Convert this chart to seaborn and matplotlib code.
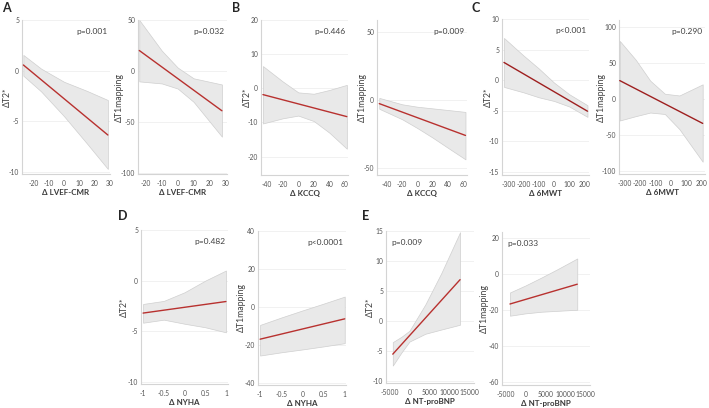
import numpy as np
import pandas as pd
import seaborn as sns
import matplotlib.pyplot as plt

# ---- panel A: delta LVEF-CMR
a1_x = [-26.6, -15, 0, 15, 28.6]
a1_hi = [1.55, 0.2, -1.1, -2.0, -2.9]
a1_lo = [-0.5, -2.05, -4.5, -7.2, -9.7]
a1_fit = [0.56, -6.35]

a2_x = [-24.2, -10, 0, 10, 27.8]
a2_hi = [50, 20, 3.5, -7, -13]
a2_lo = [-10, -12, -17, -30, -64]
a2_fit = [20.2, -38.7]

# ---- panel B: delta KCCQ
b1_x = [-45.5, -20, 0, 20, 40, 62.5]
b1_hi = [6.5, 2.0, -1.2, -1.6, -0.5, 1.0]
b1_lo = [-10.3, -8.8, -8.0, -9.6, -13.0, -17.7]
b1_fit = [-1.85, -8.3]

b2_x = [-50, -20, 0, 20, 40, 63]
b2_hi = [1.7, -3.0, -4.8, -6.0, -7.2, -8.6]
b2_lo = [-6.3, -14.0, -20.5, -27.5, -35, -43.5]
b2_fit = [-2.5, -25.9]

# ---- panel C: delta 6MWT
c1_x = [-330, -200, -100, 0, 100, 220]
c1_hi = [6.9, 4.0, 1.9, -0.4, -2.3, -4.1]
c1_lo = [-1.1, -2.0, -2.8, -3.4, -4.3, -6.0]
c1_fit = [2.9, -5.07]

c2_x = [-330, -227, -133, -39, 55, 205]
c2_hi = [80, 54, 25, 7, 4.6, 20]
c2_lo = [-30, -24, -19, -21, -42, -87]
c2_fit = [25.2, -34.0]

# ---- panel D: delta NYHA
d1_x = [-1, -0.5, 0, 0.5, 1]
d1_hi = [-2.3, -2.0, -1.15, 0.0, 1.0]
d1_lo = [-4.15, -3.85, -4.25, -4.6, -5.1]
d1_fit = [-3.2, -2.06]

d2_x = [-1, -0.5, 0, 0.5, 1]
d2_hi = [-9.4, -5.5, -1.8, 1.8, 5.5]
d2_lo = [-25.5, -23.8, -22.3, -20.7, -19.0]
d2_fit = [-16.9, -6.2]

# ---- panel E: delta NT-proBNP
e1_x = [-4200, -2000, 0, 4000, 8000, 12700]
e1_hi = [-3.5, -2.6, -1.6, 2.8, 8.0, 14.8]
e1_lo = [-7.4, -5.2, -3.4, -2.1, -1.4, -0.6]
e1_fit = [-5.5, 6.9]

e2_x = [-3900, 0, 4000, 8000, 13000]
e2_hi = [-10.1, -6.2, -1.8, 2.8, 8.8]
e2_lo = [-23, -21.7, -20.8, -20.3, -19.7]
e2_fit = [-16.5, -5.5]

p_values = ['p=0.001', 'p=0.032', 'p=0.446', 'p=0.009', 'p<0.001', 'p=0.290',
            'p=0.482', 'p<0.0001', 'p=0.009', 'p=0.033']

sns.set_theme(style='white')
plt.rcParams['font.family'] = ['Lato', 'DejaVu Sans']
plt.rcParams['axes.unicode_minus'] = False

W, H = 709, 408
fig = plt.figure(figsize=(W / 100, H / 100), dpi=100)
narrow = ['Liberation Sans Narrow', 'Lato', 'DejaVu Sans']


def draw(rect, x, hi, lo, fit, xlim, ylim, xticks, yticks, xlabel, ylabel, ptext,
         ylab_off=15, pleft=False, lcolor='#b8312f'):
    l, t, r, b = rect
    ax = fig.add_axes([l / W, 1 - b / H, (r - l) / W, (b - t) / H])
    ax.fill_between(x, lo, hi, facecolor='#e9e9e9', edgecolor='#cfcfcf', lw=0.5, zorder=1)
    sns.lineplot(x=[x[0], x[-1]], y=fit, color=lcolor, lw=1.0, ax=ax, zorder=3)
    ax.set_xlim(*xlim)
    ax.set_ylim(*ylim)
    ax.set_xticks(xticks)
    ax.set_xticklabels([f'{v:g}' for v in xticks], family=narrow)
    ax.set_yticks(yticks)
    ax.set_yticklabels([f'{v:g}' for v in yticks], family=narrow)
    ax.yaxis.grid(True, color='#efefef', lw=0.6, zorder=0)
    ax.set_axisbelow(True)
    for s in ['top', 'right']:
        ax.spines[s].set_visible(False)
    for s in ['left', 'bottom']:
        ax.spines[s].set_color('#d4d4d4')
        ax.spines[s].set_linewidth(0.8)
    ax.tick_params(axis='both', labelsize=4.9, colors='#d4d4d4', labelcolor='#555555',
                   length=2, width=0.5, pad=2)
    ax.tick_params(axis='y', length=0)
    ax.set_xlabel(xlabel, fontsize=5.8, fontweight='bold', color='#3a3a3a', labelpad=2,
                  family=narrow)
    ax.set_ylabel(ylabel, fontsize=6.3, color='#404040', va='center')
    ax.yaxis.set_label_coords(-ylab_off / (r - l), 0.5)
    if pleft:
        ax.text(0.06, 0.95, ptext, transform=ax.transAxes, ha='left', va='top',
                fontsize=6, color='#404040')
    else:
        ax.text(0.97, 0.95, ptext, transform=ax.transAxes, ha='right', va='top',
                fontsize=6, color='#404040')
    return ax


lv = 'Δ LVEF-CMR'
draw((22, 20, 110, 174), a1_x, a1_hi, a1_lo, a1_fit, (-27.5, 30), (-10.2, 5),
     [-20, -10, 0, 10, 20, 30], [-10, -5, 0, 5], lv, 'ΔT2*', p_values[0], ylab_off=15)
draw((138, 20, 227, 174), a2_x, a2_hi, a2_lo, a2_fit, (-25, 31), (-100.5, 50),
     [-20, -10, 0, 10, 20, 30], [-100, -50, 0, 50], lv, 'ΔT1mapping', p_values[1], ylab_off=19)

kc = 'Δ KCCQ'
draw((261, 20, 348, 175), b1_x, b1_hi, b1_lo, b1_fit, (-48, 64), (-25.4, 20),
     [-40, -20, 0, 20, 40, 60], [-20, -10, 0, 10, 20], kc, 'ΔT2*', p_values[2], ylab_off=14)
draw((377, 20, 467, 175), b2_x, b2_hi, b2_lo, b2_fit, (-53, 65), (-55, 59),
     [-40, -20, 0, 20, 40, 60], [-50, 0, 50], kc, 'ΔT1mapping', p_values[3], ylab_off=15)

mw = 'Δ 6MWT'
draw((502, 19, 589, 175), c1_x, c1_hi, c1_lo, c1_fit, (-343, 230), (-15.5, 10),
     [-300, -200, -100, 0, 100, 200], [-15, -10, -5, 0, 5, 10], mw, 'ΔT2*', p_values[4],
     ylab_off=14, lcolor='#9e1f1f')
draw((619, 20, 705, 174), c2_x, c2_hi, c2_lo, c2_fit, (-335, 220), (-104, 109),
     [-300, -200, -100, 0, 100, 200], [-100, -50, 0, 50, 100], mw, 'ΔT1mapping', p_values[5],
     ylab_off=18, lcolor='#9e1f1f')

ny = 'Δ NYHA'
draw((141, 230, 228, 384), d1_x, d1_hi, d1_lo, d1_fit, (-1.05, 1.05), (-10.2, 5),
     [-1, -0.5, 0, 0.5, 1], [-10, -5, 0, 5], ny, 'ΔT2*', p_values[6], ylab_off=17)
draw((258, 231, 346, 385), d2_x, d2_hi, d2_lo, d2_fit, (-1.05, 1.03), (-41, 40),
     [-1, -0.5, 0, 0.5, 1], [-40, -20, 0, 20, 40], ny, 'ΔT1mapping', p_values[7], ylab_off=17)

nt = 'Δ NT-proBNP'
draw((386, 231, 474, 383), e1_x, e1_hi, e1_lo, e1_fit, (-5900, 16200), (-10.3, 15),
     [-5000, 0, 5000, 10000, 15000], [-10, -5, 0, 5, 10, 15], nt, 'ΔT2*', p_values[8],
     ylab_off=16, pleft=True)
draw((502, 232, 590, 385), e2_x, e2_hi, e2_lo, e2_fit, (-5900, 16200), (-61.5, 23.5),
     [-5000, 0, 5000, 10000, 15000], [-60, -40, -20, 0, 20], nt, 'ΔT1mapping', p_values[9],
     ylab_off=18, pleft=True)

for letter, px, py in [('A', 2, 2), ('B', 232, 2), ('C', 472, 2), ('D', 118, 210), ('E', 362, 210)]:
    fig.text(px / W, 1 - py / H, letter, ha='left', va='top', fontsize=9,
             fontweight='bold', color='#262626')

fig.savefig('out.png', dpi=100, facecolor='white')
